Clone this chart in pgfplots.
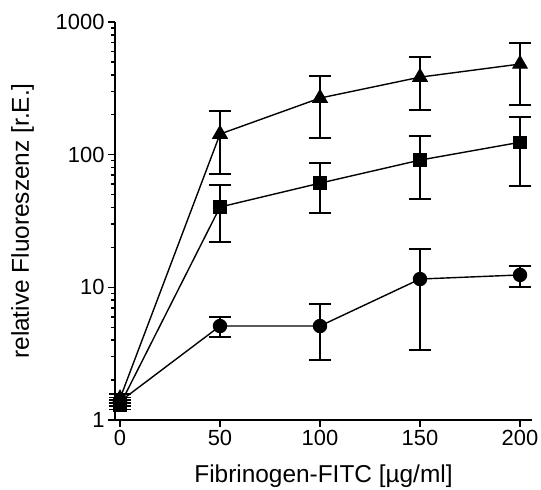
\documentclass[border=0pt]{standalone}
\usepackage{pgfplots}
\pgfplotsset{compat=1.18}
\usepackage{pgfplotstable}
\usepackage{fontspec}
\setmainfont{Liberation Sans}

% x  y  lo  hi
\pgfplotstableread{
x   y     lo    hi
0   1.45  1.35  1.56
50  143   71.4  213
100 267   133   391
150 384   217   544
200 482   236   693
}\tri
\pgfplotstableread{
x   y     lo    hi
0   1.30  1.20  1.42
50  40.3  21.9  59
100 61    36.3  86.5
150 91    46.3  138
200 124   58    192
}\sq
\pgfplotstableread{
x   y     lo    hi
0   1.38  1.28  1.48
50  5.11  4.22  5.97
100 5.11  2.83  7.48
150 11.55 3.37  19.4
200 12.4  10.05 14.5
}\circ

\begin{document}
\begin{tikzpicture}
\begin{axis}[
  at={(0,0)}, anchor=south west,
  scale only axis,
  width=417bp, height=398bp,
  ymode=log,
  xmin=-2.5, xmax=206,
  ymin=1, ymax=1000,
  axis lines*=left,
  axis line style={line width=1.8bp},
  tick align=outside,
  tick style={line width=1.5bp, black},
  major tick length=7bp,
  minor tick length=4bp,
  xtick={0,50,100,150,200},
  ytick={1,10,100,1000},
  yticklabels={1,10,100,1000},
  minor ytick={2,3,4,5,6,7,8,9,20,30,40,50,60,70,80,90,200,300,400,500,600,700,800,900},
  ticklabel style={font=\fontsize{22}{25}\selectfont},
  /pgf/number format/assume math mode=true,
  xlabel={Fibrinogen-FITC [µg/ml]},
  ylabel={relative Fluoreszenz [r.E.]},
  label style={font=\fontsize{24.5}{28}\selectfont},
  xlabel style={yshift=-12bp},
  ylabel style={yshift=15bp},
  clip=false,
  error bars/y dir=both,
  error bars/y explicit,
  error bars/error mark options={black, rotate=90, mark size=11bp, line width=1.8bp},
  error bars/error bar style={black, line width=1.8bp},
]
\addplot[black, line width=1.4bp, mark=triangle*, mark size=8bp, mark options={fill=black, solid}]
  table[x=x, y=y, y error plus expr=\thisrow{hi}-\thisrow{y}, y error minus expr=\thisrow{y}-\thisrow{lo}] {\tri};
\addplot[black, line width=1.4bp, mark=square*, mark size=6bp, mark options={fill=black, solid}]
  table[x=x, y=y, y error plus expr=\thisrow{hi}-\thisrow{y}, y error minus expr=\thisrow{y}-\thisrow{lo}] {\sq};
\addplot[black, line width=1.4bp, mark=*, mark size=6.5bp, mark options={fill=black, solid}]
  table[x=x, y=y, y error plus expr=\thisrow{hi}-\thisrow{y}, y error minus expr=\thisrow{y}-\thisrow{lo}] {\circ};
\end{axis}
\pgfresetboundingbox
\path (-115bp,-70bp) rectangle (426bp,420bp);
\end{tikzpicture}
\end{document}
